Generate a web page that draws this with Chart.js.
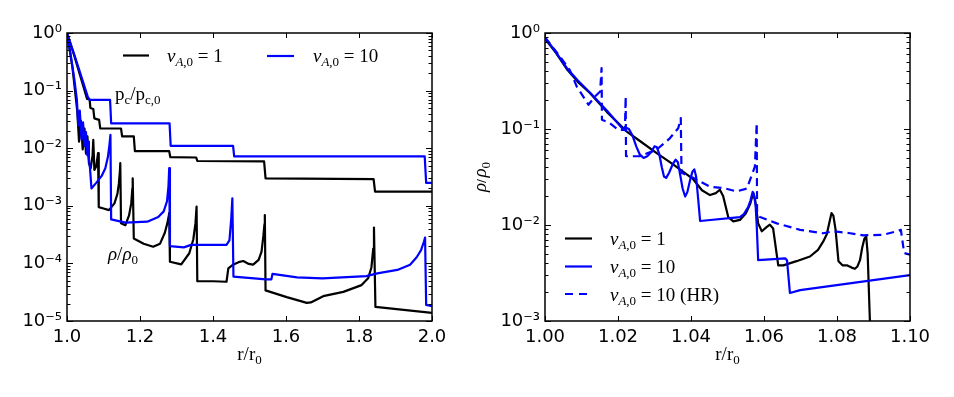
<!DOCTYPE html>
<html>
<head>
<meta charset="utf-8">
<script src="https://cdn.jsdelivr.net/npm/chart.js@4.4.0/dist/chart.umd.min.js"></script>
<style>
  html, body { margin: 0; padding: 0; background: #fff; }
  #wrap { position: relative; width: 954px; height: 397px; overflow: hidden; }
  canvas { position: absolute; top: 0; }
  #left { left: 0; }
  #right { left: 477px; }
</style>
</head>
<body>
<div id="wrap">
  <canvas id="left" width="470" height="397"></canvas>
  <canvas id="right" width="477" height="397"></canvas>
</div>
<script>
// ---- tick labels
const leftXTicks = [1.0, 1.2, 1.4, 1.6, 1.8, 2.0];
const leftXLabels = ['1.0', '1.2', '1.4', '1.6', '1.8', '2.0'];
const leftYTicks = [1e-5, 1e-4, 1e-3, 1e-2, 1e-1, 1];
const leftYLabels = ['10⁻⁵', '10⁻⁴', '10⁻³', '10⁻²', '10⁻¹', '10⁰'];
const rightXTicks = [1.00, 1.02, 1.04, 1.06, 1.08, 1.10];
const rightXLabels = ['1.00', '1.02', '1.04', '1.06', '1.08', '1.10'];
const rightYTicks = [1e-3, 1e-2, 1e-1, 1];
const rightYLabels = ['10⁻³', '10⁻²', '10⁻¹', '10⁰'];

const seriesValues = ['1', '10', '10'];   // v_A,0 of each run
const seriesNotes = ['', '', ' (HR)'];

// ---- left panel: p_c / p_c,0, v_A,0 = 1
const pcV1X = [1.000, 1.020, 1.040, 1.055, 1.062, 1.064, 1.072, 1.075, 1.088, 1.091, 1.148, 1.151, 1.183, 1.186, 1.280, 1.283, 1.354, 1.357, 1.540, 1.544, 1.840, 1.844, 2.000];
const pcV1Y = [1.0, 0.40, 0.15, 0.072, 0.070, 0.050, 0.048, 0.033, 0.031, 0.022, 0.022, 0.016, 0.016, 0.0089, 0.0089, 0.0070, 0.0069, 0.0060, 0.0059, 0.0030, 0.0029, 0.00176, 0.00176];

// ---- left panel: p_c / p_c,0, v_A,0 = 10
const pcV10X = [1.000, 1.020, 1.040, 1.057, 1.062, 1.118, 1.121, 1.281, 1.284, 1.455, 1.458, 1.980, 1.984, 2.000];
const pcV10Y = [1.0, 0.42, 0.17, 0.078, 0.069, 0.069, 0.027, 0.027, 0.0110, 0.0110, 0.0072, 0.0072, 0.0025, 0.0025];

// ---- left panel: rho / rho_0, v_A,0 = 1
const rhoV1X = [1.000, 1.015, 1.028, 1.033, 1.038, 1.043, 1.048, 1.052, 1.056, 1.060, 1.065, 1.070, 1.072, 1.075, 1.080, 1.085, 1.087,
  1.100, 1.115, 1.130, 1.138, 1.142, 1.145, 1.146, 1.148, 1.160, 1.170, 1.176, 1.179, 1.180, 1.183, 1.210, 1.236, 1.255, 1.268, 1.275, 1.279, 1.280, 1.282,
  1.313, 1.335, 1.346, 1.352, 1.355, 1.357, 1.400, 1.437, 1.442, 1.455, 1.470, 1.483, 1.498, 1.510, 1.525, 1.533, 1.538, 1.541, 1.542, 1.544,
  1.602, 1.657, 1.668, 1.702, 1.757, 1.807, 1.825, 1.834, 1.839, 1.841, 1.845, 2.000];
const rhoV1Y = [1.0, 0.25, 0.045, 0.013, 0.030, 0.0095, 0.022, 0.008, 0.016, 0.0055, 0.0045, 0.0075, 0.0139, 0.0042, 0.0048, 0.0082, 0.00095,
  0.00090, 0.00084, 0.0011, 0.0016, 0.0024, 0.0040, 0.0055, 0.00050, 0.00046, 0.00068, 0.0011, 0.0020, 0.0030, 0.00027, 0.00022, 0.000195, 0.00022, 0.00034, 0.00050, 0.00068, 0.00075, 0.000107,
  0.000096, 0.00015, 0.00026, 0.00050, 0.00097, 0.000049, 0.000049, 0.000048, 0.000082, 0.000095, 0.000105, 0.00011, 0.000098, 0.000095, 0.000115, 0.00016, 0.00030, 0.00048, 0.00069, 0.000034,
  0.000026, 0.0000206, 0.000021, 0.000027, 0.000032, 0.000042, 0.000055, 0.000085, 0.00018, 0.00042, 0.0000176, 0.0000138];

// ---- left panel: rho / rho_0, v_A,0 = 10
const rhoV10X = [1.000, 1.010, 1.020, 1.027, 1.031, 1.035, 1.040, 1.044, 1.048, 1.052, 1.056, 1.058, 1.060, 1.063, 1.067, 1.080, 1.095, 1.105, 1.112, 1.116, 1.119, 1.121,
  1.160, 1.220, 1.250, 1.265, 1.274, 1.278, 1.280, 1.282, 1.320, 1.340, 1.437, 1.445, 1.450, 1.453, 1.456,
  1.545, 1.560, 1.563, 1.630, 1.700, 1.820, 1.850, 1.905, 1.940, 1.958, 1.970, 1.978, 1.981, 1.984, 2.000];
const rhoV10Y = [1.0, 0.42, 0.16, 0.07, 0.025, 0.045, 0.014, 0.028, 0.011, 0.019, 0.0075, 0.013, 0.0065, 0.0045, 0.0020, 0.0025, 0.0033, 0.0045, 0.0070, 0.011, 0.017, 0.00058,
  0.00051, 0.00053, 0.00064, 0.00080, 0.0012, 0.0022, 0.0045, 0.00020, 0.00019, 0.00021, 0.00021, 0.00025, 0.0006, 0.00135, 0.000059,
  0.000053, 0.000053, 0.000066, 0.000057, 0.000055, 0.000060, 0.000067, 0.000077, 0.000095, 0.000128, 0.00017, 0.00024, 0.00028, 0.000019, 0.000018];

// ---- right panel: rho / rho_0, v_A,0 = 1
const rV1X = [1.000, 1.003, 1.006, 1.009, 1.0123, 1.017, 1.0224, 1.026, 1.0306, 1.035, 1.0406, 1.0430, 1.0452, 1.0468, 1.0479, 1.0488, 1.0502, 1.0516,
  1.0534, 1.0550, 1.0562, 1.0568, 1.0571, 1.0576, 1.0584, 1.0594, 1.0607, 1.0616, 1.0625, 1.0639, 1.0653, 1.0689, 1.0726, 1.0748, 1.0762, 1.0772, 1.0780, 1.0785,
  1.0790, 1.0796, 1.0804, 1.0815, 1.0827, 1.0840, 1.0849, 1.0856, 1.0863, 1.0869, 1.0875, 1.0880, 1.0884, 1.0890, 1.0896];
const rV1Y = [0.87, 0.62, 0.42, 0.31, 0.237, 0.150, 0.094, 0.075, 0.056, 0.043, 0.030, 0.023, 0.0205, 0.0215, 0.0233, 0.020, 0.0121, 0.0109,
  0.0113, 0.0132, 0.0165, 0.020, 0.0215, 0.018, 0.0104, 0.0086, 0.0095, 0.0101, 0.0092, 0.0038, 0.0038, 0.0042, 0.0047, 0.0055, 0.0067, 0.0080, 0.0110, 0.0133,
  0.0125, 0.0090, 0.0042, 0.0038, 0.0038, 0.0036, 0.0035, 0.0037, 0.0043, 0.0058, 0.0072, 0.0076, 0.0050, 0.00103, 0.0007];

// ---- right panel: rho / rho_0, v_A,0 = 10
const rV10X = [1.000, 1.003, 1.006, 1.009, 1.0123, 1.017, 1.0215, 1.0222, 1.0230, 1.0240, 1.0250, 1.0260, 1.0270, 1.0280, 1.0292, 1.0300, 1.0306, 1.0313,
  1.0320, 1.0326, 1.0332, 1.0340, 1.0350, 1.0358, 1.0364, 1.0370, 1.0377, 1.0384, 1.0390, 1.0398, 1.0404, 1.0409, 1.0414, 1.0420, 1.0425,
  1.0534, 1.0545, 1.0557, 1.0563, 1.0569, 1.0573, 1.0577, 1.0580, 1.0584, 1.0658, 1.0663, 1.0671, 1.0699, 1.1000];
const rV10Y = [0.90, 0.63, 0.43, 0.32, 0.24, 0.155, 0.098, 0.103, 0.100, 0.085, 0.066, 0.054, 0.050, 0.052, 0.058, 0.066, 0.065, 0.055,
  0.040, 0.032, 0.031, 0.035, 0.043, 0.048, 0.045, 0.034, 0.024, 0.0198, 0.022, 0.030, 0.036, 0.038, 0.032, 0.018, 0.0110,
  0.0121, 0.0130, 0.0155, 0.018, 0.0222, 0.020, 0.016, 0.010, 0.0043, 0.0045, 0.0043, 0.00196, 0.0021, 0.0030];

// ---- right panel: rho / rho_0, v_A,0 = 10 (HR)
const rHRX = [1.000, 1.0041, 1.0068, 1.0087, 1.0119, 1.0137, 1.0151, 1.0155, 1.0156, 1.0178, 1.0201, 1.0219, 1.0221, 1.0222, 1.0260, 1.0306,
  1.0342, 1.0365, 1.0372, 1.0374, 1.0406, 1.0452, 1.0488, 1.0525, 1.0553, 1.0575, 1.0580, 1.0581, 1.0589, 1.0635, 1.0699, 1.0762,
  1.0790, 1.0836, 1.0872, 1.0926, 1.0964, 1.0975, 1.0984, 1.1000];
const rHRY = [0.90, 0.57, 0.41, 0.277, 0.179, 0.218, 0.246, 0.43, 0.125, 0.115, 0.098, 0.098, 0.218, 0.052, 0.052, 0.061,
  0.080, 0.102, 0.130, 0.035, 0.031, 0.025, 0.0243, 0.0224, 0.024, 0.0405, 0.115, 0.0133, 0.0121, 0.0104, 0.0089, 0.0082,
  0.0086, 0.0082, 0.0078, 0.0079, 0.0086, 0.0089, 0.0051, 0.0049];

const BLUE = '#0000ff';
const SERIF = '"Liberation Serif", "DejaVu Serif", serif';
const R19 = '19px ' + SERIF, R13 = '13px ' + SERIF;
const I19 = 'italic 19px ' + SERIF, I13 = 'italic 13px ' + SERIF;

const pts = (xs, ys) => xs.map((x, i) => ({ x, y: ys[i] }));

// draw a run of text pieces, pieces with sub:true are subscripts
function runWidth(ctx, runs) {
  let w = 0;
  runs.forEach(r => { ctx.font = r.f; w += ctx.measureText(r.t).width; });
  return w;
}
function drawRuns(ctx, x, y, runs) {
  ctx.textBaseline = 'alphabetic';
  ctx.textAlign = 'left';
  runs.forEach(r => {
    ctx.font = r.f;
    ctx.fillText(r.t, x, y + (r.sub ? 4 : 0));
    x += ctx.measureText(r.t).width;
  });
}
const vLabel = i => [
  { t: 'v', f: I19 }, { t: 'A', f: I13, sub: true }, { t: ',0', f: R13, sub: true },
  { t: ' = ', f: R19 }, { t: seriesValues[i], f: R19 }, { t: seriesNotes[i], f: R19 }
];
const rOverR0 = [{ t: 'r/r', f: R19 }, { t: '0', f: R13, sub: true }];

function makeFrame(xTicks, yTicks, extra) {
  return {
    id: 'frame',
    afterDraw(chart) {
      const { ctx, chartArea: a, scales: { x, y } } = chart;
      ctx.save();
      ctx.strokeStyle = '#000';
      ctx.fillStyle = '#000';
      ctx.lineWidth = 1.5;
      ctx.strokeRect(a.left, a.top, a.right - a.left, a.bottom - a.top);
      ctx.lineWidth = 1;
      const seg = (x1, y1, x2, y2) => { ctx.beginPath(); ctx.moveTo(x1, y1); ctx.lineTo(x2, y2); ctx.stroke(); };
      xTicks.forEach(v => {
        const px = Math.round(x.getPixelForValue(v)) + 0.5;
        seg(px, a.bottom, px, a.bottom - 5);
        seg(px, a.top, px, a.top + 5);
      });
      yTicks.forEach((v, i) => {
        const py = Math.round(y.getPixelForValue(v)) + 0.5;
        seg(a.left, py, a.left + 6, py);
        seg(a.right, py, a.right - 6, py);
        if (i < yTicks.length - 1) {
          for (let k = 2; k <= 9; k++) {
            const pm = Math.round(y.getPixelForValue(v * k)) + 0.5;
            seg(a.left, pm, a.left + 3.5, pm);
            seg(a.right, pm, a.right - 3.5, pm);
          }
        }
      });
      extra(ctx, a);
      ctx.restore();
    }
  };
}

function axes(xMin, xMax, xTicks, xLabels, yMin, yMax, yTicks, yLabels, yWidth) {
  const font = { family: '"DejaVu Sans", sans-serif', size: 18 };
  return {
    x: {
      type: 'linear', min: xMin, max: xMax,
      afterBuildTicks: s => { s.ticks = xTicks.map(v => ({ value: v })); },
      afterFit: s => { s.height = 76; },
      grid: { display: false, drawTicks: false },
      border: { display: false },
      ticks: { callback: (v, i) => xLabels[i], font, color: '#000', padding: 6, autoSkip: false, maxRotation: 0 }
    },
    y: {
      type: 'logarithmic', min: yMin, max: yMax,
      afterBuildTicks: s => { s.ticks = yTicks.map(v => ({ value: v })); },
      afterFit: s => { s.width = yWidth; },
      grid: { display: false, drawTicks: false },
      border: { display: false },
      ticks: { callback: (v, i) => yLabels[i], font, color: '#000', padding: 5, autoSkip: false }
    }
  };
}

const baseOptions = {
  responsive: false, animation: false, devicePixelRatio: 1,
  plugins: { legend: { display: false }, tooltip: { enabled: false } },
  elements: { point: { radius: 0 }, line: { tension: 0, borderWidth: 2.2, borderJoinStyle: 'round' } }
};

// left chart
new Chart(document.getElementById('left'), {
  type: 'line',
  data: {
    datasets: [
      { data: pts(pcV10X, pcV10Y), borderColor: BLUE },
      { data: pts(rhoV10X, rhoV10Y), borderColor: BLUE },
      { data: pts(pcV1X, pcV1Y), borderColor: '#000' },
      { data: pts(rhoV1X, rhoV1Y), borderColor: '#000' }
    ]
  },
  options: {
    ...baseOptions,
    layout: { padding: { top: 33, right: 38, left: 0, bottom: 0 } },
    scales: axes(1, 2, leftXTicks, leftXLabels, 1e-5, 1, leftYTicks, leftYLabels, 67)
  },
  plugins: [makeFrame(leftXTicks, leftYTicks, (ctx, a) => {
    // legend
    ctx.lineWidth = 2.2;
    ctx.strokeStyle = '#000';
    ctx.beginPath(); ctx.moveTo(123, 55.5); ctx.lineTo(149, 55.5); ctx.stroke();
    drawRuns(ctx, 167, 62, vLabel(0));
    ctx.strokeStyle = BLUE;
    ctx.beginPath(); ctx.moveTo(267, 56); ctx.lineTo(294, 56); ctx.stroke();
    drawRuns(ctx, 313, 62, vLabel(1));
    // annotations
    drawRuns(ctx, 115, 100, [{ t: 'p', f: R19 }, { t: 'c', f: R13, sub: true }, { t: '/p', f: R19 }, { t: 'c,0', f: R13, sub: true }]);
    drawRuns(ctx, 108, 260, [{ t: 'ρ', f: I19 }, { t: '/', f: R19 }, { t: 'ρ', f: I19 }, { t: '0', f: R13, sub: true }]);
    // x title
    const w = runWidth(ctx, rOverR0);
    drawRuns(ctx, (a.left + a.right) / 2 - w / 2, 360, rOverR0);
  })]
});

// right chart
new Chart(document.getElementById('right'), {
  type: 'line',
  data: {
    datasets: [
      { data: pts(rHRX, rHRY), borderColor: BLUE, borderDash: [8, 5] },
      { data: pts(rV10X, rV10Y), borderColor: BLUE },
      { data: pts(rV1X, rV1Y), borderColor: '#000' }
    ]
  },
  options: {
    ...baseOptions,
    layout: { padding: { top: 33, right: 44, left: 0, bottom: 0 } },
    scales: axes(1, 1.1, rightXTicks, rightXLabels, 1e-3, 1, rightYTicks, rightYLabels, 68)
  },
  plugins: [makeFrame(rightXTicks, rightYTicks, (ctx, a) => {
    // legend
    ctx.lineWidth = 2.2;
    const rows = [238.5, 266.5, 294];
    const colors = ['#000', BLUE, BLUE];
    rows.forEach((ry, i) => {
      ctx.strokeStyle = colors[i];
      ctx.setLineDash(i === 2 ? [8, 6] : []);
      ctx.beginPath(); ctx.moveTo(88, ry); ctx.lineTo(115, ry); ctx.stroke();
      ctx.setLineDash([]);
      drawRuns(ctx, 133, ry + 6.5, vLabel(i));
    });
    // x title
    const w = runWidth(ctx, rOverR0);
    drawRuns(ctx, (a.left + a.right) / 2 - w / 2, 360, rOverR0);
    // y title
    const yt = [{ t: 'ρ', f: I19 }, { t: '/', f: R19 }, { t: 'ρ', f: I19 }, { t: '0', f: R13, sub: true }];
    const wy = runWidth(ctx, yt);
    ctx.save();
    ctx.translate(9, (a.top + a.bottom) / 2);
    ctx.rotate(-Math.PI / 2);
    drawRuns(ctx, -wy / 2, 0, yt);
    ctx.restore();
  })]
});
</script>
</body>
</html>
